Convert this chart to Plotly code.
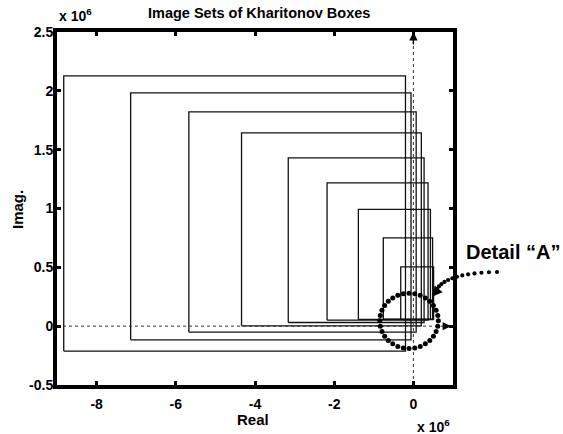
import numpy as np
import plotly.graph_objects as go

# Kharitonov box image sets (values in units of 1e6)
box_left = [-8.83, -7.14, -5.67, -4.34, -3.16, -2.18, -1.39, -0.76, -0.32]
box_right = [-0.20, -0.06, 0.07, 0.20, 0.27, 0.37, 0.43, 0.485, 0.51]
box_bottom = [-0.212, -0.116, -0.051, 0.003, 0.031, 0.051, 0.057, 0.06, 0.055]
box_top = [2.127, 1.983, 1.822, 1.643, 1.431, 1.218, 0.992, 0.75, 0.504]

x_ticks = [-8, -6, -4, -2, 0]
x_tick_labels = ["-8", "-6", "-4", "-2", "0"]
y_ticks = [-0.5, 0, 0.5, 1, 1.5, 2, 2.5]
y_tick_labels = ["-0.5", "0", "0.5", "1", "1.5", "2", "2.5"]

FONT = "Liberation Sans, Arial, sans-serif"

# figure geometry (pixels)
W, H = 563, 434
L, R, T, B = 57, 110, 32, 49
pw, ph = W - L - R, H - T - B


def px(xp):
    return (xp - L) / pw


def py(yp):
    return (H - B - yp) / ph


fig = go.Figure()

# Rectangles as closed polylines
for xl, xr, yb, yt in zip(box_left, box_right, box_bottom, box_top):
    fig.add_trace(go.Scatter(
        x=[xl, xr, xr, xl, xl], y=[yb, yb, yt, yt, yb],
        mode="lines", line=dict(color="#111", width=1.3),
        showlegend=False, hoverinfo="skip"))

# Dotted real / imaginary axes through the origin
fig.add_trace(go.Scatter(x=[-9, 0.85], y=[0, 0], mode="lines",
                         line=dict(color="#333", width=1, dash="dot"),
                         showlegend=False, hoverinfo="skip"))
fig.add_trace(go.Scatter(x=[0, 0], y=[-0.5, 2.42], mode="lines",
                         line=dict(color="#333", width=1, dash="dot"),
                         showlegend=False, hoverinfo="skip"))

# Dotted ellipse marking the detail region
cx, cy, rx, ry = -0.11, 0.045, 0.74, 0.235
t = np.linspace(0, 2 * np.pi, 32, endpoint=False)
fig.add_trace(go.Scatter(x=cx + rx * np.cos(t), y=cy + ry * np.sin(t),
                         mode="markers", marker=dict(color="black", size=5),
                         cliponaxis=False, showlegend=False, hoverinfo="skip"))

# Dotted leader from the "Detail A" label (drawn in pixel space, outside the axes)
shapes = []
q0 = np.array([497.0, 272.0])
q1 = np.array([447.0, 273.0])
q2 = np.array([437.0, 289.0])
s = np.linspace(0, 1, 13)[:, None]
leader = (1 - s) ** 2 * q0 + 2 * (1 - s) * s * q1 + s ** 2 * q2
rdot = 2.1
for xp, yp in leader:
    shapes.append(dict(type="circle", xref="paper", yref="paper",
                       x0=px(xp - rdot), x1=px(xp + rdot),
                       y0=py(yp + rdot), y1=py(yp - rdot),
                       fillcolor="black", line=dict(width=0)))

arrow = dict(xref="x", yref="y", axref="x", ayref="y", showarrow=True,
             arrowhead=2, arrowcolor="black", text="")
annotations = [
    dict(x=0.95, y=0, ax=0.72, ay=0, arrowsize=1.2, arrowwidth=1.4, **arrow),
    dict(x=0, y=2.5, ax=0, ay=2.38, arrowsize=1.2, arrowwidth=1.4, **arrow),
    dict(x=0.47, y=0.25, ax=0.62, ay=0.31, arrowsize=1.3, arrowwidth=1.6, **arrow),
    dict(text="<b>Detail \u201cA\u201d</b>", x=px(464), y=py(252),
         xref="paper", yref="paper", xanchor="left", yanchor="middle",
         showarrow=False, font=dict(family=FONT, size=20, color="black")),
    dict(text="<b>x 10<sup>6</sup></b>", x=px(57), y=py(26), xref="paper", yref="paper",
         xanchor="left", yanchor="bottom", showarrow=False,
         font=dict(family=FONT, size=14, color="black")),
    dict(text="<b>x 10<sup>6</sup></b>", x=px(452), y=py(437), xref="paper", yref="paper",
         xanchor="right", yanchor="bottom", showarrow=False,
         font=dict(family=FONT, size=14, color="black")),
    dict(text="<b>Real</b>", x=px(253), y=py(419), xref="paper", yref="paper",
         xanchor="center", yanchor="middle", showarrow=False,
         font=dict(family=FONT, size=15, color="black")),
    dict(text="<b>Imag.</b>", x=px(17), y=py(210), xref="paper", yref="paper",
         xanchor="center", yanchor="middle", textangle=-90, showarrow=False,
         font=dict(family=FONT, size=15, color="black")),
    dict(text="<b>Image Sets of Kharitonov Boxes</b>", x=px(259), y=py(13), xref="paper",
         yref="paper", xanchor="center", yanchor="middle", showarrow=False,
         font=dict(family=FONT, size=14.5, color="black")),
]

axis_common = dict(showgrid=False, zeroline=False, showline=True, linecolor="black",
                   linewidth=4, mirror="allticks", ticks="inside", ticklen=4,
                   tickwidth=2.5, tickcolor="black",
                   tickfont=dict(family=FONT, size=14, color="black", weight="bold"))

fig.update_layout(
    width=W, height=H, margin=dict(l=L, r=R, t=T, b=B),
    paper_bgcolor="white", plot_bgcolor="white",
    xaxis=dict(range=[-9, 1], tickvals=x_ticks, ticktext=x_tick_labels,
               ticklabelstandoff=3, **axis_common),
    yaxis=dict(range=[-0.5, 2.5], tickvals=y_ticks, ticktext=y_tick_labels,
               ticklabelstandoff=-3, **axis_common),
    shapes=shapes,
    annotations=annotations,
)

fig.write_html("out.html")
